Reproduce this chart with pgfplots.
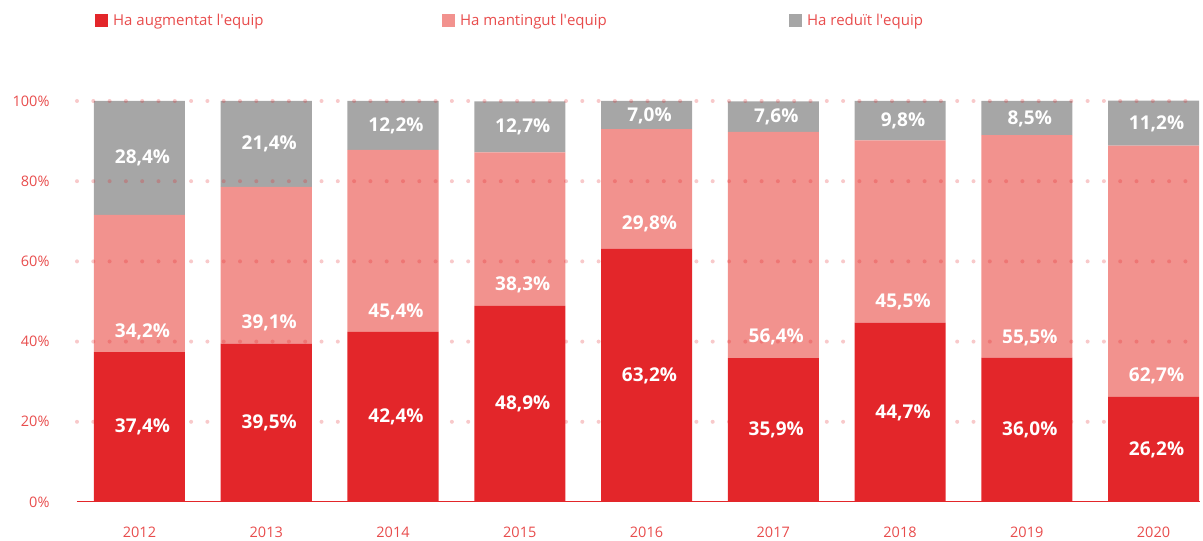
\documentclass[border=0pt]{standalone}
\usepackage{pgfplots}
\pgfplotsset{compat=1.18}
\usepackage{fontspec}
\setmainfont{Open Sans}

\definecolor{vermell}{HTML}{E3262A}
\definecolor{rosa}{HTML}{F2928E}
\definecolor{gris}{HTML}{A6A6A6}
\definecolor{textvermell}{HTML}{E84C4C}

% x: 0 = 2012 ... 8 = 2020
\pgfplotstableread{
x a m r
0 37.4 34.2 28.4
1 39.5 39.1 21.4
2 42.4 45.4 12.2
3 48.9 38.3 12.7
4 63.2 29.8 7.0
5 35.9 56.4 7.6
6 44.7 45.5 9.8
7 36.0 55.5 8.5
8 26.2 62.7 11.2
}\dades

% label positions (y, in %) and values
\pgfplotstableread{
x ya va ym vm yr vr
0 18.7 37.4 42.5 34.2 85.8 28.4
1 19.8 39.5 44.6 39.1 89.2 21.4
2 21.2 42.4 47.5 45.4 93.9 12.2
3 24.4 48.9 54.2 38.3 93.6 12.7
4 31.5 63.2 69.3 29.8 96.2 7.0
5 18.0 35.9 41.1 56.4 96.1 7.6
6 22.3 44.7 49.9 45.5 95.1 9.8
7 18.0 36.0 41.0 55.5 95.5 8.5
8 13.1 26.2 31.4 62.7 94.3 11.2
}\etiquetes

\pgfplotsset{
  base/.style={
    scale only axis,
    width=1123pt, height=401pt,
    xmin=-0.493, xmax=8.367,
    ymin=0, ymax=100,
  },
}

\begin{document}
\begin{tikzpicture}
\begin{axis}[
    base,
    ybar stacked,
    bar width=0.718,
    axis on top,
    axis x line*=bottom,
    axis y line*=left,
    x axis line style={draw=vermell, line width=1pt},
    y axis line style={draw=none},
    major tick length=0pt,
    xtick={0,...,8},
    xticklabels={2012,2013,2014,2015,2016,2017,2018,2019,2020},
    ytick={20,40,60,80,100},
    extra y ticks={0},
    extra y tick style={grid=none},
    yticklabel={\pgfmathprintnumber{\tick}\%},
    /pgf/number format/assume math mode=true,
    tick label style={font=\fontsize{14.5}{17}\selectfont, text=textvermell},
    yticklabel style={xshift=-24pt},
    xticklabel style={yshift=-21pt},
    ymajorgrids,
    grid style={draw=vermell, opacity=0.25, line width=4pt, line cap=round, dash pattern=on 0pt off 16.3pt},
    legend columns=3,
    legend style={at={(axis description cs:0.0160,1.2)}, anchor=west, draw=none, fill=none,
      inner sep=0pt, nodes={inner sep=0pt}, font=\fontsize{15}{17}\selectfont, text=textvermell},
    legend image code/.code={\fill[#1] (0pt,-6.5pt) rectangle (13pt,6.5pt);},
]
\addplot[fill=vermell, draw=none] table[x=x, y=a] {\dades};
\addplot[fill=rosa, draw=none] table[x=x, y=m] {\dades};
\addplot[fill=gris, draw=none] table[x=x, y=r] {\dades};
\legend{\makebox[334pt][l]{\hspace{5pt}Ha augmentat l\textquotesingle equip},
        \makebox[334pt][l]{\hspace{5pt}Ha mantingut l\textquotesingle equip},
        \makebox[200pt][l]{\hspace{5pt}Ha reduït l\textquotesingle equip}}
\end{axis}

\begin{axis}[
    base,
    hide axis,
    nodes near coords={\pgfmathprintnumber[fixed, fixed zerofill, precision=1, use comma, assume math mode=true]{\pgfplotspointmeta}\%},
    nodes near coords align=center,
    every node near coord/.append style={anchor=center, xshift=3pt, text=white, font=\bfseries\fontsize{19}{22}\selectfont},
    point meta=explicit,
]
\addplot[draw=none] table[x=x, y=ya, meta=va] {\etiquetes};
\addplot[draw=none] table[x=x, y=ym, meta=vm] {\etiquetes};
\addplot[draw=none] table[x=x, y=yr, meta=vr] {\etiquetes};
\end{axis}
\path (-77pt,-36pt) rectangle (1126pt,502pt);
\end{tikzpicture}
\end{document}
